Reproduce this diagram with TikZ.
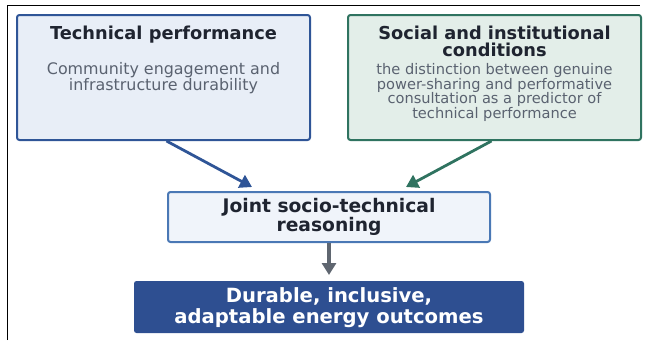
\documentclass[tikz,border=0pt]{standalone}
\usepackage{fontspec}
\setmainfont{DejaVu Sans}
\usetikzlibrary{positioning,arrows.meta}

\definecolor{techBlue}{HTML}{2F5597}
\definecolor{techFill}{HTML}{E8EEF7}
\definecolor{socGreen}{HTML}{2F7360}
\definecolor{socFill}{HTML}{E3EEE9}
\definecolor{jointEdge}{HTML}{4A78B5}
\definecolor{jointFill}{HTML}{F0F4FA}
\definecolor{outFill}{HTML}{2E4F91}
\definecolor{titleInk}{HTML}{1F2430}
\definecolor{bodyInk}{HTML}{5A6270}
\definecolor{flowGray}{HTML}{5F6670}

\begin{document}
\begin{tikzpicture}
  [x=1pt,y=-1pt,
   boxN/.style={rounded corners=2.5pt,line width=2pt,inner sep=0pt},
   titleT/.style={inner sep=0pt,align=center,text=titleInk,
     font=\fontsize{17.8}{16.8}\selectfont\bfseries},
   bodyT/.style={inner sep=0pt,align=center,text=bodyInk},
   arrowE/.style={line width=2.8pt,-{Triangle[length=12pt,width=14pt]}}]

  \useasboundingbox (0,0) rectangle (645,340);
  \draw[line width=1.3pt] (7.3,340) -- (7.3,5.7) -- (640,5.7);

  % upper boxes
  \node[boxN,draw=techBlue,fill=techFill,minimum width=293pt,minimum height=125pt]
    (tech) at (163.5,77.5) {};
  \node[boxN,draw=socGreen,fill=socFill,minimum width=293pt,minimum height=125pt]
    (soc) at (494.5,77.5) {};

  \node[titleT,below=12pt of tech.north] (techTitle) {Technical performance};
  \node[bodyT,font=\fontsize{15.9}{16}\selectfont,below=19pt of techTitle]
    (techBody) {Community engagement and\\infrastructure durability};

  \node[titleT,below=12pt of soc.north] (socTitle)
    {Social and institutional\\conditions};
  \node[bodyT,font=\fontsize{14.6}{14.8}\selectfont,below=6pt of socTitle]
    (socBody) {the distinction between genuine\\power-sharing and performative\\
    consultation as a predictor of\\technical performance};

  % lower boxes
  \node[boxN,draw=jointEdge,fill=jointFill,minimum width=322pt,minimum height=50pt]
    (joint) at (329,217) {};
  \node[titleT,font=\fontsize{18.7}{19.5}\selectfont\bfseries] (jointText) at (joint.center)
    {Joint socio-technical\\reasoning};

  \node[boxN,fill=outFill,minimum width=390pt,minimum height=52pt,below=37pt of joint]
    (out) {};
  \node[titleT,text=white,font=\fontsize{19.6}{20.5}\selectfont\bfseries] (outText)
    at ([yshift=-0.5pt]out.center) {Durable, inclusive,\\adaptable energy outcomes};

  % connectors
  \draw[arrowE,draw=techBlue,fill=techBlue] ([xshift=3pt]tech.south)
    -- ([xshift=-77pt,yshift=4pt]joint.north);
  \draw[arrowE,draw=socGreen,fill=socGreen] ([xshift=-3pt]soc.south)
    -- ([xshift=77pt,yshift=4pt]joint.north);
  \draw[arrowE,line width=3.6pt,draw=flowGray,fill=flowGray] (joint.south)
    -- ([yshift=5pt]out.north);
\end{tikzpicture}
\end{document}
